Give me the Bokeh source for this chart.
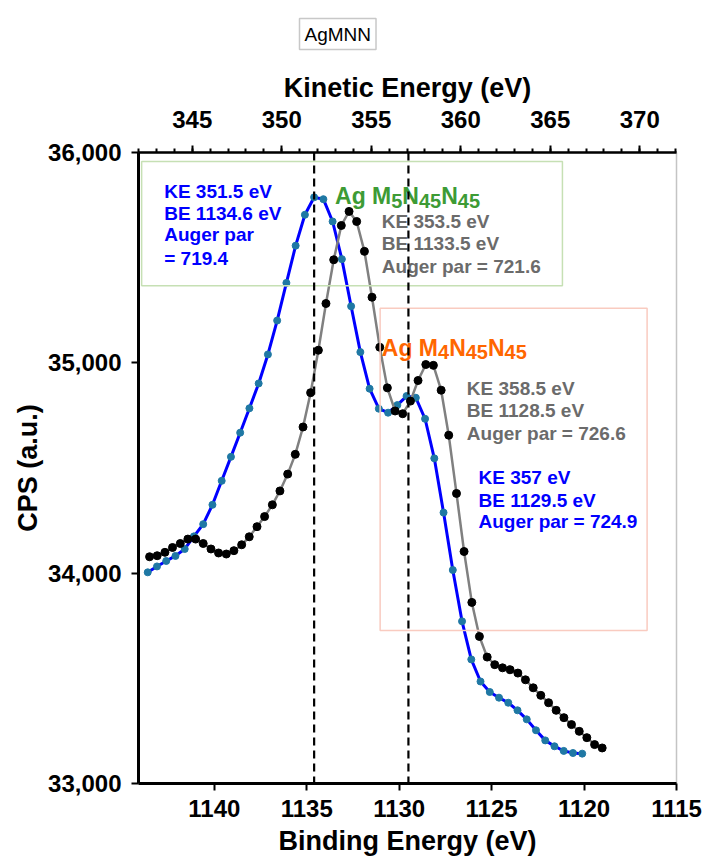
from bokeh.plotting import figure
from bokeh.models import (Range1d, LinearAxis, SingleIntervalTicker, FixedTicker,
                          NumeralTickFormatter, Span, BoxAnnotation)
from bokeh.core.properties import value
from bokeh.embed import file_html
from bokeh.resources import INLINE

# ---- Ag MNN Auger spectra (binding energy, counts per second) ----
be_blue = [1143.6, 1143.1, 1142.6, 1142.1, 1141.6, 1141.1, 1140.6, 1140.1,
           1139.6, 1139.1, 1138.6, 1138.1, 1137.6, 1137.1, 1136.6, 1136.1,
           1135.6, 1135.1, 1134.6, 1134.1, 1133.6, 1133.1, 1132.6, 1132.1,
           1131.6, 1131.1, 1130.6, 1130.1, 1129.6, 1129.1, 1128.6, 1128.1,
           1127.6, 1127.1, 1126.6, 1126.1, 1125.6, 1125.1, 1124.6, 1124.1,
           1123.6, 1123.1, 1122.6, 1122.1, 1121.6, 1121.1, 1120.6, 1120.1]
cps_blue = [34004, 34032, 34058, 34082, 34115, 34175, 34233, 34325,
            34439, 34553, 34668, 34784, 34902, 35040, 35201, 35380,
            35557, 35704, 35787, 35778, 35672, 35493, 35269, 35051,
            34877, 34782, 34763, 34799, 34842, 34834, 34734, 34546,
            34288, 34015, 33771, 33590, 33485, 33435, 33408, 33384,
            33348, 33305, 33253, 33205, 33177, 33155, 33145, 33142]

be_black = [1143.50, 1143.09, 1142.67, 1142.26, 1141.84, 1141.43, 1141.01, 1140.60,
            1140.18, 1139.77, 1139.35, 1138.94, 1138.52, 1138.11, 1137.69, 1137.28,
            1136.86, 1136.45, 1136.03, 1135.62, 1135.20, 1134.79, 1134.37, 1133.96,
            1133.54, 1133.13, 1132.71, 1132.30, 1131.88, 1131.47, 1131.05, 1130.64,
            1130.22, 1129.81, 1129.39, 1128.98, 1128.56, 1128.15, 1127.73, 1127.32,
            1126.90, 1126.49, 1126.07, 1125.66, 1125.24, 1124.83, 1124.41, 1124.00,
            1123.58, 1123.17, 1122.75, 1122.34, 1121.92, 1121.51, 1121.09, 1120.68,
            1120.26, 1119.85, 1119.43, 1119.02]
cps_black = [34078, 34083, 34099, 34122, 34141, 34162, 34162, 34141,
             34115, 34096, 34091, 34107, 34135, 34173, 34221, 34269,
             34325, 34391, 34471, 34565, 34695, 34858, 35060, 35282,
             35490, 35653, 35720, 35672, 35530, 35312, 35074, 34881,
             34771, 34758, 34818, 34916, 34992, 34988, 34870, 34656,
             34379, 34103, 33861, 33699, 33601, 33565, 33550, 33541,
             33525, 33493, 33455, 33419, 33384, 33348, 33313, 33280,
             33248, 33218, 33185, 33169]

be_ticks = [1140, 1135, 1130, 1125, 1120, 1115]
cps_ticks = [33000, 34000, 35000, 36000]
peak_be = [1134.6, 1129.5]

blue_m5_text = ["KE 351.5 eV", "BE 1134.6 eV", "Auger par", "= 719.4"]
gray_m5_text = ["KE 353.5 eV", "BE 1133.5 eV", "Auger par = 721.6"]
gray_m4_text = ["KE 358.5 eV", "BE 1128.5 eV", "Auger par = 726.6"]
blue_m4_text = ["KE 357 eV", "BE 1129.5 eV", "Auger par = 724.9"]

FONT = "Liberation Sans"
BLUE = "#0000ff"
GRAY_TXT = "#6b6b6b"
GREEN = "#3d9b35"
ORANGE = "#ff6600"

p = figure(width=707, height=859, output_backend="svg", toolbar_location=None,
           x_range=Range1d(1144.1, 1115), y_range=Range1d(33000, 36000),
           min_border_left=138, min_border_right=31,
           min_border_top=0, min_border_bottom=76)
p.grid.visible = False
p.outline_line_color = "#c4c4c4"
p.outline_line_width = 1.5
p.background_fill_color = "white"
p.border_fill_color = "white"
p.extra_x_ranges = {"ke": Range1d(342.0, 372.05)}

# panel caption in a thin box
p.title.text = "AgMNN"
p.title.align = "left"
p.title.vertical_align = "top"
p.title.offset = 161
p.title.standoff = 36
p.title.text_font = FONT
p.title.text_font_style = "normal"
p.title.text_font_size = "19px"
p.title.text_color = "black"
p.title.border_line_color = "#c8c8c8"
p.title.border_line_width = 1.5
p.title.background_fill_color = "white"
p.title.padding = 5


def style_axis(ax, width=3):
    ax.axis_line_color = "black"
    ax.axis_line_width = width
    ax.major_tick_line_color = "black"
    ax.major_tick_line_width = 2
    ax.major_tick_in = 0
    ax.major_tick_out = 7
    ax.minor_tick_line_color = "black"
    ax.minor_tick_line_width = 2
    ax.minor_tick_in = 0
    ax.minor_tick_out = 4
    ax.major_label_text_font = FONT
    ax.major_label_text_font_style = "bold"
    ax.major_label_text_font_size = "24px"
    ax.major_label_text_color = "black"
    ax.axis_label_text_font = FONT
    ax.axis_label_text_font_style = "bold"
    ax.axis_label_text_font_size = "27px"
    ax.axis_label_text_color = "black"


xb = p.xaxis[0]
xb.ticker = FixedTicker(ticks=be_ticks, minor_ticks=[])
xb.axis_label = "Binding Energy (eV)"
style_axis(xb)
xb.major_label_standoff = 9
xb.axis_label_standoff = 6

yl = p.yaxis[0]
yl.ticker = FixedTicker(ticks=cps_ticks, minor_ticks=[])
yl.formatter = NumeralTickFormatter(format="0,0")
yl.axis_label = "CPS (a.u.)"
style_axis(yl)
yl.major_label_standoff = 10
yl.axis_label_standoff = 2

xt = LinearAxis(x_range_name="ke", axis_label="Kinetic Energy (eV)",
                ticker=SingleIntervalTicker(interval=5, num_minor_ticks=5))
style_axis(xt, width=2.5)
xt.major_label_standoff = 18
xt.axis_label_standoff = 5
p.add_layout(xt, "above")

# frames around the two Auger peak groups
p.add_layout(BoxAnnotation(left=1143.93, right=1121.17, bottom=35367, top=35957,
                           fill_alpha=0, line_color="#c6e0b4", line_alpha=1,
                           line_width=1.5))
p.add_layout(BoxAnnotation(left=1131.03, right=1116.59, bottom=33727, top=35259,
                           fill_alpha=0, line_color="#f9cbc0", line_alpha=1,
                           line_width=1.5))

# spectra
p.line(be_blue, cps_blue, line_color=BLUE, line_width=3)
p.scatter(be_blue, cps_blue, size=7, fill_color="#1f78a4", line_color="#1f78a4")
p.line(be_black, cps_black, line_color="#808080", line_width=2.5)
p.scatter(be_black, cps_black, size=8, fill_color="black", line_color="black")

# peak positions of the blue spectrum
for be in peak_be:
    p.add_layout(Span(location=be, dimension="height", line_color="black",
                      line_width=2.2, line_dash="8 5"))


def text_block(lines, be, cps, offsets, color):
    n = len(lines)
    p.text(x=[be] * n, y=[cps] * n, text=lines, y_offset=offsets,
           text_color=color, text_font=value(FONT), text_font_style="bold",
           text_font_size="19px", text_align="left", text_baseline="middle")


text_block(blue_m5_text, 1142.71, 35814, [0, 21.7, 43.3, 66.7], BLUE)
text_block(gray_m5_text, 1130.94, 35672, [0, 21.7, 45.0], GRAY_TXT)
text_block(gray_m4_text, 1126.34, 34879, [0, 22.7, 45.4], GRAY_TXT)
text_block(blue_m4_text, 1125.71, 34454, [0, 22.6, 44.3], BLUE)

# Auger transition names with subscripts (Arial Bold advance widths, em)
ADV = {"A": 0.722, "g": 0.611, " ": 0.278, "M": 0.833, "N": 0.722,
       "4": 0.556, "5": 0.556}
BIG, SMALL, SUB_SHIFT = 23, 20, 4.5


def transition_name(parts, be, cps, color):
    big_t, big_x, sub_t, sub_x = [], [], [], []
    x = 0.0
    for txt, sub in parts:
        size = SMALL if sub else BIG
        (sub_t if sub else big_t).append(txt)
        (sub_x if sub else big_x).append(x)
        x += sum(ADV[c] for c in txt) * size
    common = dict(text_color=color, text_font=value(FONT), text_font_style="bold",
                  text_align="left", text_baseline="alphabetic")
    p.text(x=[be] * len(big_t), y=[cps] * len(big_t), text=big_t, x_offset=big_x,
           text_font_size=f"{BIG}px", **common)
    p.text(x=[be] * len(sub_t), y=[cps] * len(sub_t), text=sub_t, x_offset=sub_x,
           y_offset=[SUB_SHIFT] * len(sub_t), text_font_size=f"{SMALL}px", **common)


transition_name([("Ag M", False), ("5", True), ("N", False), ("45", True),
                 ("N", False), ("45", True)], 1133.47, 35791, GREEN)
transition_name([("Ag M", False), ("4", True), ("N", False), ("45", True),
                 ("N", False), ("45", True)], 1130.94, 35071, ORANGE)

open("out.html", "w").write(file_html(p, INLINE))
